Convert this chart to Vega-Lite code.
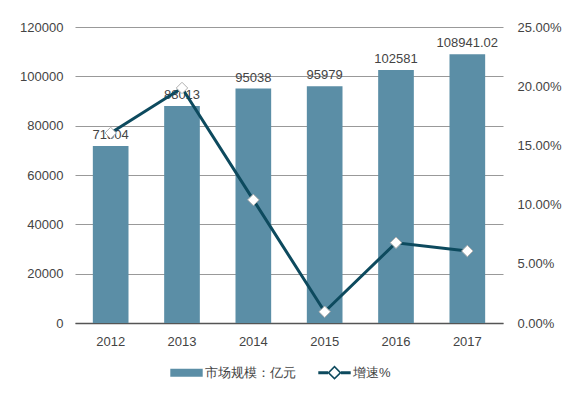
{
  "$schema": "https://vega.github.io/schema/vega-lite/v6.json",
  "autosize": "none",
  "width": 428,
  "height": 296,
  "padding": {"left": 75, "top": 27, "right": 82, "bottom": 76},
  "background": "white",
  "config": {
    "font": "Liberation Sans",
    "view": {"stroke": null},
    "axis": {"labelFont": "Liberation Sans", "labelFontSize": 13, "labelColor": "#444444", "ticks": false, "title": null}
  },
  "data": {
    "values": [
      {"year": "2012", "value": 71804, "label": "71804", "growth": 0.1605},
      {"year": "2013", "value": 88013, "label": "88013", "growth": 0.1985},
      {"year": "2014", "value": 95038, "label": "95038", "growth": 0.104},
      {"year": "2015", "value": 95979, "label": "95979", "growth": 0.0095},
      {"year": "2016", "value": 102581, "label": "102581", "growth": 0.0678},
      {"year": "2017", "value": 108941.02, "label": "108941.02", "growth": 0.0608}
    ]
  },
  "encoding": {
    "x": {
      "field": "year", "type": "ordinal",
      "scale": {"paddingInner": 0.5, "paddingOuter": 0.25},
      "axis": {"labelAngle": 0, "labelPadding": 12, "domainColor": "#555555", "domainWidth": 1.5}
    }
  },
  "layer": [
    {
      "layer": [
        {
          "mark": {"type": "bar"},
          "encoding": {
            "y": {
              "field": "value", "type": "quantitative",
              "scale": {"domain": [0, 120000]},
              "axis": {"values": [0, 20000, 40000, 60000, 80000, 100000, 120000], "format": "d", "domain": false, "gridColor": "#999999", "labelPadding": 12}
            },
            "color": {
              "datum": "市场规模：亿元",
              "scale": {"domain": ["市场规模：亿元", "增速%"], "range": ["#5b8ea6", "#0d4a5e"]},
              "legend": {
                "orient": "none",
                "legendX": 95,
                "legendY": 329,
                "direction": "horizontal",
                "title": null,
                "symbolSize": 1050,
                "columnPadding": 22,
                "labelFontSize": 13,
                "labelColor": "#444444",
                "labelOffset": 2,
                "encode": {
                  "symbols": {
                    "update": {
                      "shape": {"signal": "datum.value === '增速%' ? 'M-1,-0.09H-0.4V0.09H-1ZM0.4,-0.09H1V0.09H0.4ZM-0.44,0L0,-0.44L0.44,0L0,0.44ZM-0.3,0L0,0.3L0.3,0L0,-0.3Z' : 'M-1,-0.25H1V0.25H-1Z'"},
                      "strokeWidth": {"value": 0},
                      "fillOpacity": {"value": 1},
                      "opacity": {"value": 1}
                    }
                  }
                }
              }
            }
          }
        },
        {
          "mark": {"type": "text", "baseline": "bottom", "dy": -4, "fontSize": 13, "color": "#444444"},
          "encoding": {
            "y": {"field": "value", "type": "quantitative", "scale": {"domain": [0, 120000]}},
            "text": {"field": "label", "type": "nominal"}
          }
        }
      ]
    },
    {
      "layer": [
        {
          "mark": {"type": "line", "color": "#0d4a5e", "strokeWidth": 3},
          "encoding": {
            "y": {
              "field": "growth", "type": "quantitative",
              "scale": {"domain": [0, 0.25]},
              "axis": {"orient": "right", "values": [0, 0.05, 0.1, 0.15, 0.2, 0.25], "format": ".2%", "grid": false, "domain": false, "labelPadding": 14}
            }
          }
        },
        {
          "mark": {"type": "point", "shape": "diamond", "filled": true, "fill": "#ffffff", "stroke": "#b0b0b0", "strokeWidth": 1, "size": 130, "opacity": 1},
          "encoding": {
            "y": {"field": "growth", "type": "quantitative", "scale": {"domain": [0, 0.25]}}
          }
        }
      ]
    }
  ],
  "resolve": {"scale": {"y": "independent"}}
}
